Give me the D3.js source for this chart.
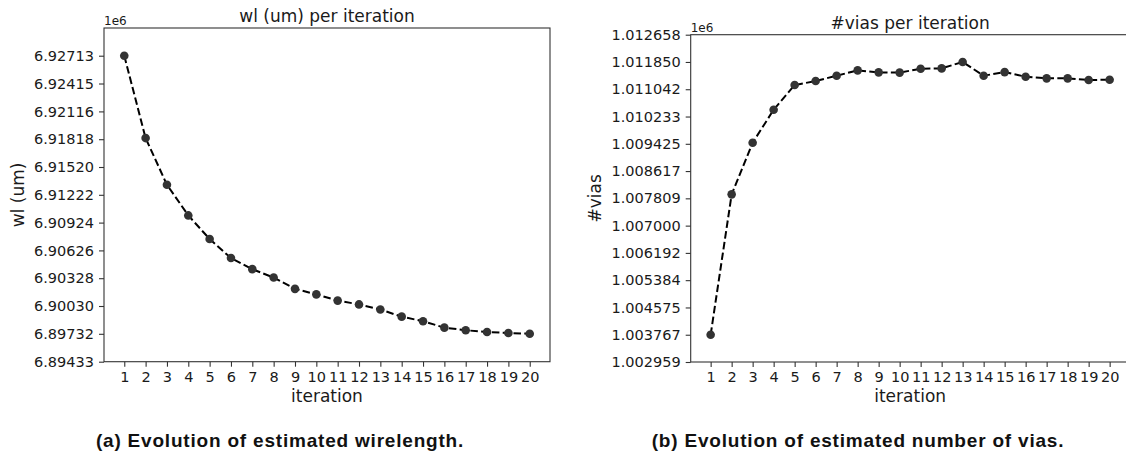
<!DOCTYPE html>
<html>
<head>
<meta charset="utf-8">
<script src="https://cdn.jsdelivr.net/npm/d3@7"></script>
<style>
  body { margin: 0; background: #fff; }
  text { font-family: "DejaVu Sans", sans-serif; fill: #1a1a1a; }
  .caption { font-family: "Liberation Sans", Arial, sans-serif; font-weight: bold; fill: #111; }
</style>
</head>
<body>
<div id="chart"></div>
<script>
// ---- data
var iterations = d3.range(1, 21);

var wl = [6927130, 6918300, 6913290, 6910010, 6907480, 6905440, 6904250, 6903350, 6902140, 6901550,
          6900880, 6900470, 6899920, 6899160, 6898670, 6897980, 6897700, 6897520, 6897410, 6897320];

var vias = [1003767, 1007927, 1009457, 1010434, 1011166, 1011284, 1011442, 1011601, 1011542, 1011535,
            1011649, 1011659, 1011850, 1011442, 1011550, 1011412, 1011364, 1011364, 1011314, 1011324];

var wlTicks = [6894330, 6897320, 6900300, 6903280, 6906260, 6909240, 6912220, 6915200, 6918180, 6921160, 6924150, 6927130];
var viasTicks = [1002959, 1003767, 1004575, 1005384, 1006192, 1007000, 1007809, 1008617, 1009425, 1010233, 1011042, 1011850, 1012658];

var svg = d3.select("#chart").append("svg")
    .attr("width", 1126)
    .attr("height", 456);

// one matplotlib-like panel
function panel(opt) {
  var x = d3.scaleLinear().domain([0.05, 20.95]).range([opt.left, opt.right]);
  var y = d3.scaleLinear().domain(opt.yDomain).range([opt.bottom, opt.top]);
  var g = svg.append("g");

  var xAxis = d3.axisBottom(x).tickValues(iterations).tickSize(5).tickPadding(5).tickFormat(d3.format("d"));
  var yAxis = d3.axisLeft(y).tickValues(opt.ticks).tickSize(5).tickPadding(5).tickFormat(opt.fmt);

  var gx = g.append("g").attr("transform", "translate(0," + opt.bottom + ")").call(xAxis);
  var gy = g.append("g").attr("transform", "translate(" + opt.left + ",0)").call(yAxis);
  [gx, gy].forEach(function(a) {
    a.select(".domain").remove();
    a.selectAll(".tick line").attr("stroke", "#333").attr("stroke-width", 1.1);
    a.selectAll(".tick text").style("font-family", "DejaVu Sans").style("font-size", "14.5px").attr("fill", "#1a1a1a");
  });

  // spines
  g.append("rect")
    .attr("x", opt.left).attr("y", opt.top)
    .attr("width", opt.right - opt.left).attr("height", opt.bottom - opt.top)
    .attr("fill", "none").attr("stroke", "#333").attr("stroke-width", 1.1);

  var line = d3.line()
    .x(function(d, i) { return x(iterations[i]); })
    .y(function(d) { return y(d); });

  g.append("path")
    .datum(opt.values)
    .attr("d", line)
    .attr("fill", "none")
    .attr("stroke", "#000")
    .attr("stroke-width", 2)
    .attr("stroke-dasharray", "7.5,3.3");

  g.selectAll("circle")
    .data(opt.values)
    .enter()
    .append("circle")
    .attr("cx", function(d, i) { return x(iterations[i]); })
    .attr("cy", function(d) { return y(d); })
    .attr("r", 4.3)
    .attr("fill", "#333");

  g.append("text")
    .attr("x", (opt.left + opt.right) / 2).attr("y", opt.top - 6)
    .attr("text-anchor", "middle").style("font-size", "17px")
    .text(opt.title);

  g.append("text")
    .attr("x", opt.left).attr("y", opt.top - 3)
    .style("font-size", "12px")
    .text("1e6");

  g.append("text")
    .attr("x", (opt.left + opt.right) / 2).attr("y", 402)
    .attr("text-anchor", "middle").style("font-size", "17px")
    .text("iteration");

  g.append("text")
    .attr("transform", "translate(" + opt.ylabelX + "," + (opt.top + opt.bottom) / 2 + ") rotate(-90)")
    .attr("text-anchor", "middle").style("font-size", "17px")
    .text(opt.ylabel);

  svg.append("text")
    .attr("class", "caption")
    .attr("x", opt.capX).attr("y", 447)
    .attr("text-anchor", "middle")
    .style("font-size", "19px")
    .style("letter-spacing", "0.8px")
    .text(opt.caption);
}

panel({
  left: 104, right: 550, top: 28, bottom: 361.7,
  yDomain: [6894330, 6930100], ticks: wlTicks,
  fmt: function(d) { return (d / 1e6).toFixed(5); },
  values: wl, title: "wl (um) per iteration", ylabel: "wl (um)", ylabelX: 24,
  caption: "(a) Evolution of estimated wirelength.", capX: 280
});

panel({
  left: 690.7, right: 1129.6, top: 34.7, bottom: 362,
  yDomain: [1002959, 1012658], ticks: viasTicks,
  fmt: function(d) { return (d / 1e6).toFixed(6); },
  values: vias, title: "#vias per iteration", ylabel: "#vias", ylabelX: 601,
  caption: "(b) Evolution of estimated number of vias.", capX: 858
});
</script>
</body>
</html>
